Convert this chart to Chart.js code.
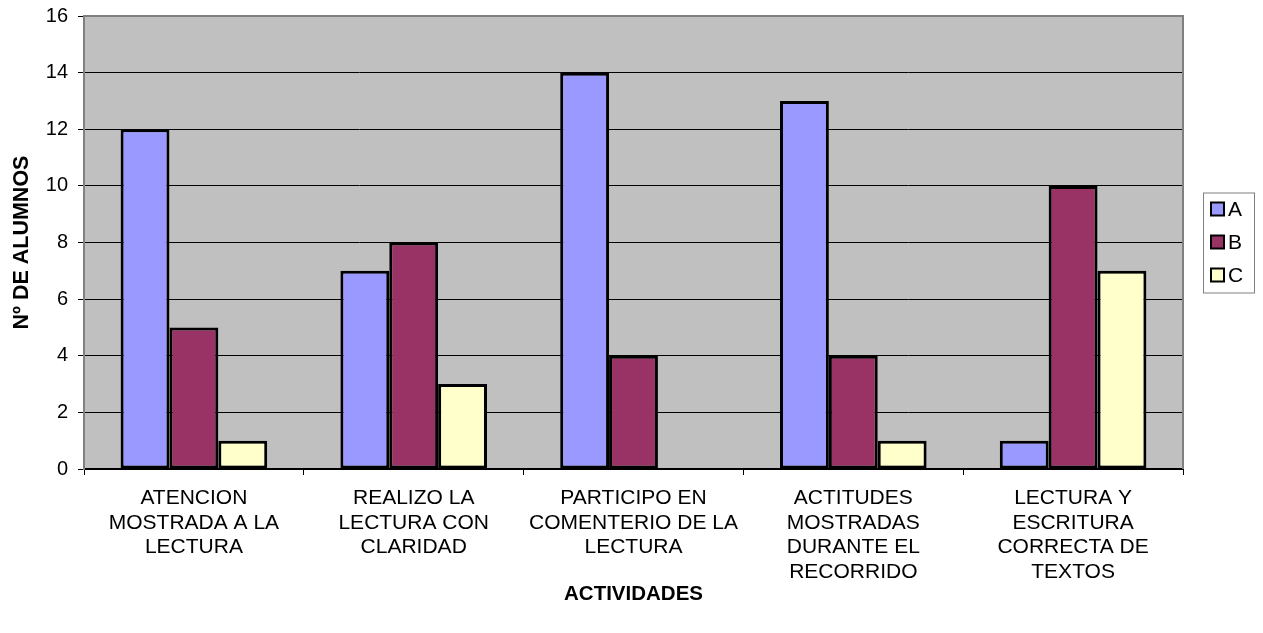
<!DOCTYPE html>
<html><head><meta charset="utf-8">
<script src="https://cdn.jsdelivr.net/npm/chart.js@4.4.0/dist/chart.umd.min.js"></script>
<style>html,body{margin:0;padding:0;background:#fff;overflow:hidden;} #wrap{width:1263px;height:633px;}</style>
</head><body><div id="wrap"><canvas id="c" width="1263" height="633"></canvas></div>
<script>
const categories = [
  ["ATENCION", "MOSTRADA A LA", "LECTURA"],
  ["REALIZO LA", "LECTURA CON", "CLARIDAD"],
  ["PARTICIPO EN", "COMENTERIO DE LA", "LECTURA"],
  ["ACTITUDES", "MOSTRADAS", "DURANTE EL", "RECORRIDO"],
  ["LECTURA Y", "ESCRITURA", "CORRECTA DE", "TEXTOS"]
];
const seriesNames = ["A", "B", "C"];
const valuesA = [12, 7, 14, 13, 1];
const valuesB = [5, 8, 4, 4, 10];
const valuesC = [1, 3, 0, 1, 7];
const yMin = 0, yMax = 16, yStep = 2;
const xTitle = "ACTIVIDADES";
const yTitle = "Nº DE ALUMNOS";
const colors = ["#9999FF", "#993366", "#FFFFCC"];

Chart.defaults.font.family = "'Liberation Sans', Arial, sans-serif";
Chart.defaults.color = "#000";

const bgPlugin = {
  id: "bg",
  beforeDraw(chart) {
    const {ctx, chartArea: a} = chart;
    ctx.save();
    ctx.fillStyle = "#C0C0C0";
    ctx.fillRect(a.left, a.top, a.right - a.left, a.bottom - a.top);
    ctx.restore();
  },
  afterDraw(chart) {
    const {ctx, chartArea: a} = chart;
    ctx.save();
    ctx.strokeStyle = "#808080";
    ctx.lineWidth = 2;
    ctx.beginPath();
    ctx.moveTo(a.left, a.top); ctx.lineTo(a.right, a.top); ctx.lineTo(a.right, a.bottom);
    ctx.stroke();
    // legend
    const ds = chart.data.datasets;
    const lx = a.right + 20, rowH = 33;
    const boxW = 51, boxH = 100;
    const cy = (a.top + a.bottom) / 2;
    const ly = cy - boxH / 2;
    ctx.fillStyle = "#fff";
    ctx.fillRect(lx, ly, boxW, boxH);
    ctx.strokeStyle = "#808080";
    ctx.lineWidth = 1;
    ctx.strokeRect(lx + 0.5, ly + 0.5, boxW, boxH);
    ctx.font = "21px 'Liberation Sans', Arial, sans-serif";
    ctx.textBaseline = "middle";
    ctx.textAlign = "left";
    ds.forEach((d, i) => {
      const y = cy + (i - (ds.length - 1) / 2) * rowH;
      ctx.fillStyle = d.backgroundColor;
      ctx.fillRect(lx + 8, y - 7, 13, 13);
      ctx.strokeStyle = "#000";
      ctx.lineWidth = 2;
      ctx.strokeRect(lx + 8, y - 7, 13, 13);
      ctx.fillStyle = "#000";
      ctx.fillText(d.label, lx + 25, y + 1);
    });
    ctx.restore();
  }
};

const mk = (i, vals) => ({
  label: seriesNames[i], data: vals, backgroundColor: colors[i],
  borderColor: "#000", borderWidth: 3, borderSkipped: false,
  categoryPercentage: 0.667, barPercentage: 1
});

new Chart(document.getElementById("c"), {
  type: "bar",
  data: {
    labels: categories,
    datasets: [mk(0, valuesA), mk(1, valuesB), mk(2, valuesC)]
  },
  options: {
    responsive: false, animation: false, devicePixelRatio: 1,
    layout: {padding: {left: 0, right: 80, top: 16, bottom: 0}},
    plugins: {legend: {display: false}, tooltip: {enabled: false}},
    scales: {
      x: {
        grid: {display: true, drawOnChartArea: false, drawTicks: true, tickLength: 6, tickColor: "#000", offset: true},
        border: {display: true, color: "#000", width: 2},
        ticks: {font: {size: 21, lineHeight: 1.17}, padding: 11, maxRotation: 0, minRotation: 0, autoSkip: false, color: "#000"},
        title: {display: true, text: xTitle, font: {size: 20.5, weight: "bold", lineHeight: 1.2}, padding: {top: 0, bottom: 26}, color: "#000"},
        afterFit(s) { s.height = 164; s.paddingLeft = 0; s.paddingRight = 0; }
      },
      y: {
        min: yMin, max: yMax,
        grid: {color: "#000", lineWidth: 1, tickLength: 6, tickColor: "#000"},
        border: {display: true, color: "#808080", width: 2},
        ticks: {stepSize: yStep, font: {size: 20}, padding: 10, color: "#000"},
        title: {display: true, text: yTitle, font: {size: 21.5, weight: "bold", lineHeight: 1.2}, padding: {top: 9, bottom: 0}, color: "#000"},
        afterFit(s) { s.width = 84; s.paddingTop = 0; s.paddingBottom = 0; }
      }
    }
  },
  plugins: [bgPlugin]
});
</script></body></html>
